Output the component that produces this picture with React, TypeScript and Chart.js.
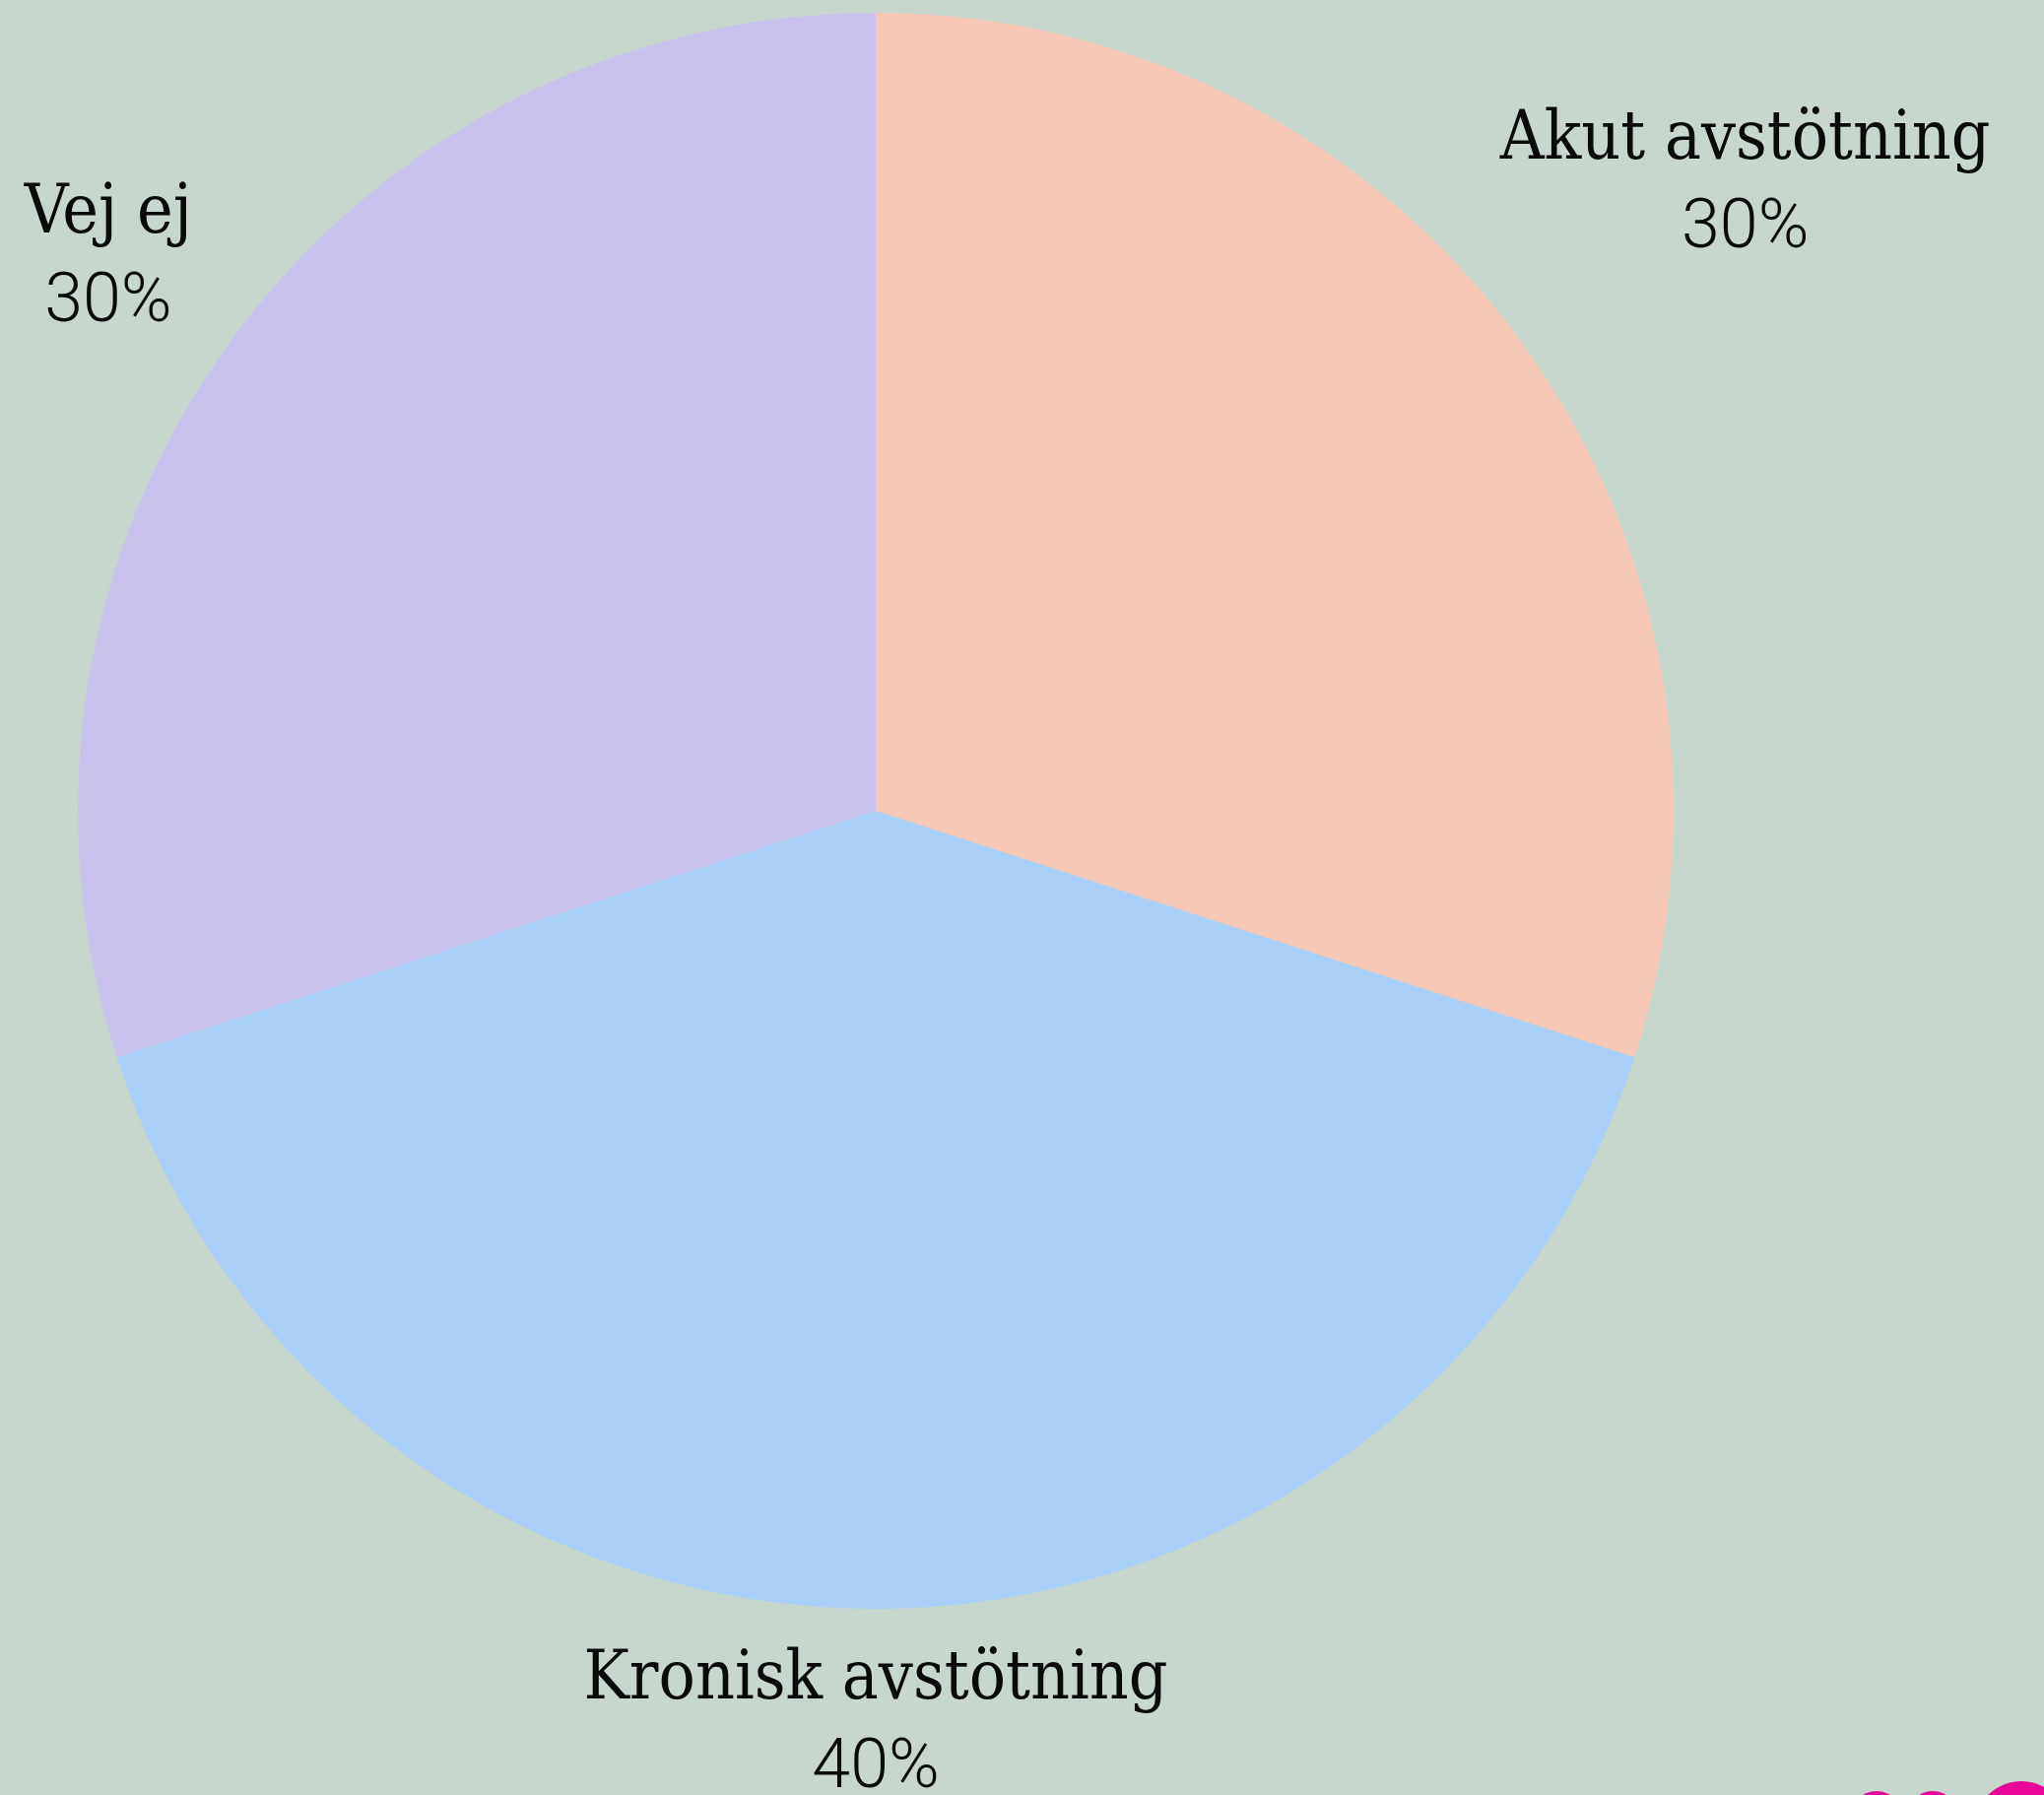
import React, { useEffect, useRef } from "react";
import { Chart, registerables } from "chart.js";

Chart.register(...registerables);

const categories = ["Akut avstötning", "Kronisk avstötning", "Vej ej"];
const values = [30, 40, 30];
const sliceColors = ["#f6c8b8", "#aacff8", "#c9c2ed"];

const W = 2075;
const H = 1822;
const BG = "#c8d7cd";

const labelPlugin = {
  id: "outsideLabels",
  afterDraw(chart: any) {
    const ctx = chart.ctx as CanvasRenderingContext2D;
    const meta = chart.getDatasetMeta(0);
    const data = chart.data.datasets[0].data as number[];
    const total = data.reduce((a, b) => a + b, 0);
    const capH = 48;
    const gap = 90;
    const blockH = capH + gap;
    const marginX = 24;
    const marginY = 7;
    const nameFont = "69px 'DejaVu Serif Condensed', 'DejaVu Serif', serif";
    const pctFont = "300 70px Roboto, 'Noto Sans', sans-serif";
    meta.data.forEach((arc: any, i: number) => {
      const p = arc.getProps(["x", "y", "startAngle", "endAngle", "outerRadius"], true);
      const mid = (p.startAngle + p.endAngle) / 2;
      const name = String(chart.data.labels[i]);
      const pct = Math.round((data[i] / total) * 100) + "%";
      ctx.save();
      ctx.font = nameFont;
      const w1 = ctx.measureText(name).width;
      ctx.font = pctFont;
      const w2 = ctx.measureText(pct).width;
      const bw = Math.max(w1, w2);
      let d = p.outerRadius * 1.347;
      let cx = 0;
      let cy = 0;
      for (; d > 0; d -= 1) {
        cx = p.x + Math.cos(mid) * d;
        cy = p.y + Math.sin(mid) * d;
        const l = cx - bw / 2;
        const r = cx + bw / 2;
        const t = cy - blockH / 2;
        const b = cy + blockH / 2;
        if (l >= marginX && r <= chart.width - marginX && t >= marginY && b <= chart.height - marginY) break;
      }
      const top = cy - blockH / 2;
      ctx.fillStyle = "#0a0a0a";
      ctx.textAlign = "center";
      ctx.textBaseline = "alphabetic";
      ctx.font = nameFont;
      ctx.fillText(name, cx, top + capH);
      ctx.font = pctFont;
      ctx.fillText(pct, cx, top + capH + gap);
      ctx.restore();
    });
  },
};

export default function App() {
  const ref = useRef<HTMLCanvasElement | null>(null);
  useEffect(() => {
    document.body.style.margin = "0";
    const canvas = ref.current;
    if (!canvas) return;
    const chart = new Chart(canvas, {
      type: "pie",
      data: {
        labels: categories,
        datasets: [
          {
            data: values,
            backgroundColor: sliceColors,
            borderWidth: 0,
          },
        ],
      },
      options: {
        responsive: false,
        animation: false,
        layout: { padding: { top: 13, bottom: 189, left: 79, right: 376 } },
        plugins: {
          legend: { display: false },
          tooltip: { enabled: false },
        },
      },
      plugins: [labelPlugin],
    });
    return () => chart.destroy();
  }, []);

  const dot = (left: number, top: number, size: number) => (
    <div
      style={{
        position: "absolute",
        left: left - size / 2,
        top: top - size / 2,
        width: size,
        height: size,
        borderRadius: "50%",
        background: "#e8079a",
      }}
    />
  );

  return (
    <div
      style={{
        position: "absolute",
        left: 0,
        top: 0,
        width: W,
        height: H,
        background: BG,
        overflow: "hidden",
      }}
    >
      <canvas ref={ref} width={W} height={H} style={{ display: "block", width: W, height: H }} />
      {dot(1905, 1846, 56)}
      {dot(1962, 1846, 56)}
      {dot(2052, 1856, 96)}
    </div>
  );
}
